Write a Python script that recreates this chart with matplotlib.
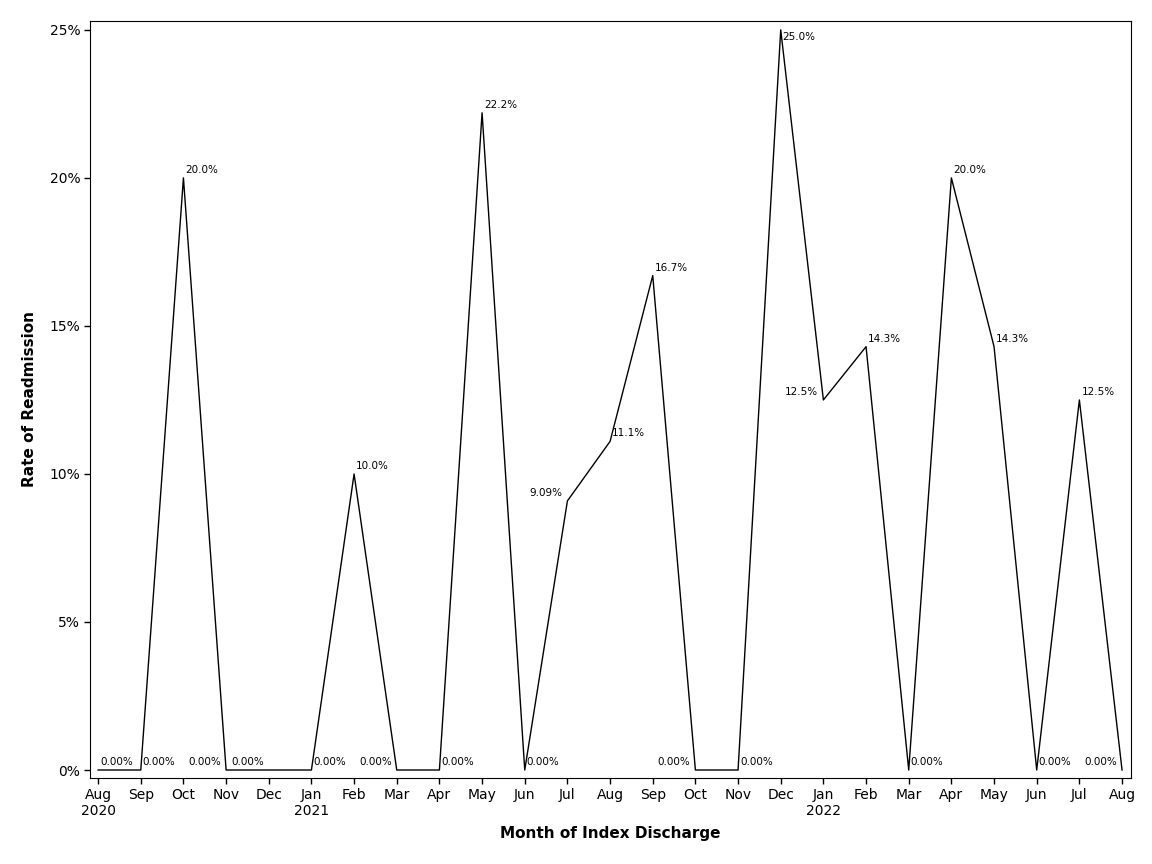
import matplotlib
matplotlib.use('Agg')
import matplotlib.pyplot as plt
import matplotlib.ticker as mticker

# Datos: tasa de readmisión mensual (%)
months = ['Aug', 'Sep', 'Oct', 'Nov', 'Dec', 'Jan', 'Feb', 'Mar', 'Apr', 'May', 'Jun', 'Jul',
          'Aug', 'Sep', 'Oct', 'Nov', 'Dec', 'Jan', 'Feb', 'Mar', 'Apr', 'May', 'Jun', 'Jul', 'Aug']
years = {0: '2020', 5: '2021', 17: '2022'}
rates = [0.0, 0.0, 20.0, 0.0, 0.0, 0.0, 10.0, 0.0, 0.0, 22.2, 0.0, 9.09,
         11.1, 16.7, 0.0, 0.0, 25.0, 12.5, 14.3, 0.0, 20.0, 14.3, 0.0, 12.5, 0.0]
labels = ['0.00%', '0.00%', '20.0%', '0.00%', '0.00%', '0.00%', '10.0%', '0.00%', '0.00%',
          '22.2%', '0.00%', '9.09%', '11.1%', '16.7%', '0.00%', '0.00%', '25.0%', '12.5%',
          '14.3%', '0.00%', '20.0%', '14.3%', '0.00%', '12.5%', '0.00%']
# posición de la etiqueta (R = arriba derecha, L = arriba izquierda, D = abajo derecha)
sides = ['R', 'R', 'R', 'L', 'L', 'R', 'R', 'L', 'R', 'R', 'R', 'L',
         'R', 'R', 'L', 'R', 'D', 'L', 'R', 'R', 'R', 'R', 'R', 'R', 'L']

plt.rcParams['font.family'] = 'DejaVu Sans'

fig = plt.figure(figsize=(11.52, 8.64), dpi=100)
ax = fig.add_axes([90 / 1152, 1 - 778 / 864, (1131 - 90) / 1152, (778 - 21) / 864])

x = list(range(len(rates)))
ax.plot(x, rates, color='black', linewidth=1)

for xi, yi, lab, s in zip(x, rates, labels, sides):
    if s == 'R':
        ax.annotate(lab, (xi, yi), xytext=(2, 8), textcoords='offset pixels',
                    ha='left', va='center', fontsize=7.5)
    elif s == 'D':
        ax.annotate(lab, (xi, yi), xytext=(2, -7), textcoords='offset pixels',
                    ha='left', va='center', fontsize=7.5)
    else:
        ax.annotate(lab, (xi, yi), xytext=(-5, 8), textcoords='offset pixels',
                    ha='right', va='center', fontsize=7.5)

ax.set_xlim(-0.19, 24.21)
ax.set_ylim(-0.27, 25.3)
ax.set_xticks(x)
ax.set_xticklabels([m + ('\n' + years[i] if i in years else '') for i, m in enumerate(months)],
                   fontsize=10)
ax.set_yticks([0, 5, 10, 15, 20, 25])
ax.yaxis.set_major_formatter(mticker.FuncFormatter(lambda v, p: f'{v:.0f}%'))
ax.tick_params(axis='y', labelsize=10)
ax.tick_params(direction='out', length=4, width=1, pad=3)

ax.set_xlabel('Month of Index Discharge', fontsize=11, fontweight='bold', labelpad=6)
ax.set_ylabel('Rate of Readmission', fontsize=11, fontweight='bold', labelpad=9)

fig.savefig('out.png', dpi=100)
